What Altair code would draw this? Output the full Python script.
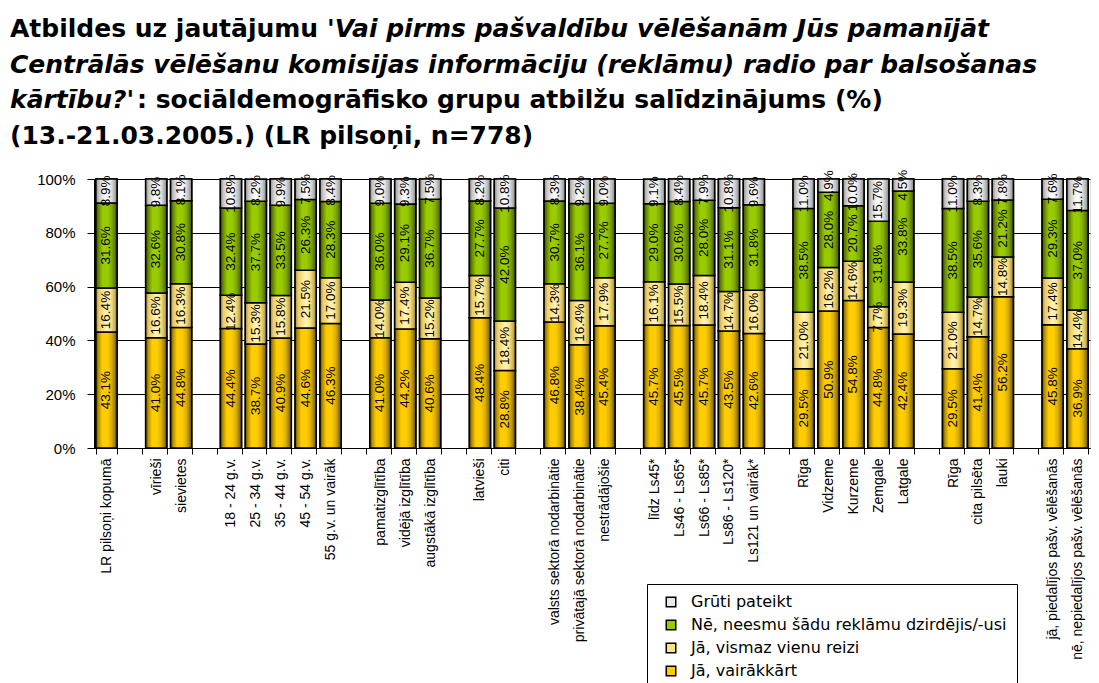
import json
import altair as alt
import pandas as pd

# ---------------- data ----------------
groups = [
    ["LR pilsoņi kopumā"],
    ["vīrieši", "sievietes"],
    ["18 - 24 g.v.", "25 - 34 g.v.", "35 - 44 g.v.", "45 - 54 g.v.", "55 g.v. un vairāk"],
    ["pamatizglītība", "vidējā izglītība", "augstākā izglītība"],
    ["latvieši", "citi"],
    ["valsts sektorā nodarbinātie", "privātajā sektorā nodarbinātie", "nestrādājošie"],
    ["līdz Ls45*", "Ls46 - Ls65*", "Ls66 - Ls85*", "Ls86 - Ls120*", "Ls121 un vairāk*"],
    ["Rīga", "Vidzeme", "Kurzeme", "Zemgale", "Latgale"],
    ["Rīga", "cita pilsēta", "lauki"],
    ["jā, piedalījos pašv. vēlēšanās", "nē, nepiedalījos pašv. vēlēšanās"],
]

series = [
    "Jā, vairākkārt",
    "Jā, vismaz vienu reizi",
    "Nē, neesmu šādu reklāmu dzirdējis/-usi",
    "Grūti pateikt",
]

ja_vairakkart = [43.1, 41.0, 44.8, 44.4, 38.7, 40.9, 44.6, 46.3, 41.0, 44.2, 40.6,
                 48.4, 28.8, 46.8, 38.4, 45.4, 45.7, 45.5, 45.7, 43.5, 42.6,
                 29.5, 50.9, 54.8, 44.8, 42.4, 29.5, 41.4, 56.2, 45.8, 36.9]
ja_vismaz = [16.4, 16.6, 16.3, 12.4, 15.3, 15.8, 21.5, 17.0, 14.0, 17.4, 15.2,
             15.7, 18.4, 14.3, 16.4, 17.9, 16.1, 15.5, 18.4, 14.7, 16.0,
             21.0, 16.2, 14.6, 7.7, 19.3, 21.0, 14.7, 14.8, 17.4, 14.4]
ne_neesmu = [31.6, 32.6, 30.8, 32.4, 37.7, 33.5, 26.3, 28.3, 36.0, 29.1, 36.7,
             27.7, 42.0, 30.7, 36.1, 27.7, 29.0, 30.6, 28.0, 31.1, 31.8,
             38.5, 28.0, 20.7, 31.8, 33.8, 38.5, 35.6, 21.2, 29.3, 37.0]
gruti = [8.9, 9.8, 8.1, 10.8, 8.2, 9.9, 7.5, 8.4, 9.0, 9.3, 7.5,
         8.2, 10.8, 8.3, 9.2, 9.0, 9.1, 8.4, 7.9, 10.8, 9.6,
         11.0, 4.9, 10.0, 15.7, 4.5, 11.0, 8.3, 7.8, 7.6, 11.7]

y_ticks = [0, 20, 40, 60, 80, 100]

title_bold_1 = "Atbildes uz jautājumu"
title_ital_1 = "'Vai pirms pašvaldību vēlēšanām Jūs pamanījāt"
title_ital_2 = "Centrālās vēlēšanu komisijas informāciju (reklāmu) radio par balsošanas"
title_ital_3 = "kārtību?'"
title_bold_3 = ": sociāldemogrāfisko grupu atbilžu salīdzinājums (%)"
title_bold_4 = "(13.-21.03.2005.) (LR pilsoņi, n=778)"

# ---------------- build table (slots with empty spacer slots between groups) ----------------
slot_labels = []
cat_slots = []
for gi, g in enumerate(groups):
    for name in g:
        cat_slots.append(len(slot_labels))
        slot_labels.append(name)
    if gi < len(groups) - 1:
        slot_labels.append("")
n_slots = len(slot_labels)

vals = [ja_vairakkart, ja_vismaz, ne_neesmu, gruti]
rows = []
for si, s in enumerate(series):
    for ci, slot in enumerate(cat_slots):
        rows.append({"slot": slot, "series": s, "order": si, "value": vals[si][ci]})
df = pd.DataFrame(rows)

# ---------------- styling ----------------
FONT = "Liberation Sans"
legend_order = [series[3], series[2], series[1], series[0]]
legend_colors = ["#E8E8E8", "#99CC00", "#FFE680", "#FFCC00"]


def grad(stops):
    return alt.LinearGradient(
        gradient="linear", x1=0, x2=1, y1=0, y2=0,
        stops=[alt.GradientStop(offset=o, color=c) for o, c in stops],
    )


gradients = {
    series[0]: grad([(0, "#5c4700"), (0.12, "#b38f00"), (0.3, "#ffcc00"), (0.55, "#ffcc00"),
                     (0.75, "#d9ad00"), (0.9, "#997a00"), (1, "#4d3d00")]),
    series[1]: grad([(0, "#a68a3a"), (0.15, "#e6cc73"), (0.35, "#ffe680"), (0.5, "#fff3c4"),
                     (0.7, "#ffe680"), (0.88, "#ccb35c"), (1, "#8c7530")]),
    series[2]: grad([(0, "#3d5200"), (0.15, "#6b8f00"), (0.32, "#99cc00"), (0.55, "#99cc00"),
                     (0.75, "#80ab00"), (0.9, "#5c7a00"), (1, "#334400")]),
    series[3]: grad([(0, "#8c8c8c"), (0.15, "#c8c8c8"), (0.35, "#eeeeee"), (0.5, "#ffffff"),
                     (0.7, "#e6e6e6"), (0.88, "#b3b3b3"), (1, "#808080")]),
}

label_expr = json.dumps(slot_labels, ensure_ascii=False) + "[datum.value]"

x_enc = alt.X(
    "slot:O",
    scale=alt.Scale(domain=list(range(n_slots)), paddingInner=0.15, paddingOuter=0.075),
    axis=alt.Axis(
        title=None, labelExpr=label_expr, labelAngle=270, labelAlign="right",
        labelBaseline="middle", labelFont=FONT, labelFontSize=14, labelColor="black",
        labelPadding=4, labelLimit=400, labelOverlap=False, tickBand="extent",
        tickSize=6, tickColor="black", domainColor="black", grid=False,
    ),
)
y_scale = alt.Scale(domain=[0, 100], nice=False, clamp=True)
y_axis = alt.Axis(
    title=None, values=y_ticks, labelExpr="datum.value + '%'", labelFont=FONT,
    labelFontSize=15, labelColor="black", labelPadding=12, tickSize=7,
    tickColor="black", domainColor="black", grid=True, gridColor="black",
    gridWidth=1, gridOpacity=1,
)
y_enc = alt.Y("y0:Q", scale=y_scale, axis=y_axis)

base = alt.Chart(df).transform_stack(
    stack="value", groupby=["slot"], sort=[alt.SortField("order")], as_=["y0", "y1"]
)

legend_layer = base.mark_bar(stroke="black", strokeWidth=1.5).encode(
    x=x_enc, y=y_enc, y2="y1:Q",
    fill=alt.Fill(
        "series:N",
        scale=alt.Scale(domain=legend_order, range=legend_colors),
        legend=alt.Legend(
            title=None, orient="none", legendX=553, legendY=405, direction="vertical",
            symbolType="square", symbolSize=90, symbolStrokeColor="black",
            symbolStrokeWidth=1.5, labelFont="DejaVu Sans", labelFontSize=16,
            labelColor="black", labelOffset=12, rowPadding=7, padding=10,
            strokeColor="black", fillColor="white", labelLimit=500, symbolOffset=6,
        ),
    ),
)

grad_layers = [
    base.transform_filter(alt.datum.series == s)
    .mark_bar(fill=gradients[s], stroke="black", strokeWidth=1.5)
    .encode(x=x_enc, y=y_enc, y2="y1:Q")
    for s in series
]

text_layer = base.transform_calculate(
    mid="(datum.y0 + datum.y1) / 2",
    lbl="format(datum.value, '.1f') + '%'",
).mark_text(angle=270, align="center", baseline="middle", font=FONT, fontSize=13.5,
            color="black").encode(
    x=x_enc, y=alt.Y("mid:Q", scale=y_scale, axis=y_axis), text="lbl:N"
)


def title_seg(txt, px, py, italic):
    kw = dict(align="left", baseline="alphabetic", font="DejaVu Sans", fontSize=25,
              fontWeight="bold", color="black")
    if italic:
        kw["fontStyle"] = "italic"
    return alt.Chart(pd.DataFrame({"t": [txt]})).mark_text(**kw).encode(
        text="t:N", x=alt.value(px), y=alt.value(py)
    )


TX = -84
title_layers = [
    title_seg(title_bold_1, TX, -142, False),
    title_seg(title_ital_1, 233, -142, True),
    title_seg(title_ital_2, TX, -106.5, True),
    title_seg(title_ital_3, TX, -71, True),
    title_seg(title_bold_3, 43, -71, False),
    title_seg(title_bold_4, TX, -35.5, False),
]

chart = alt.layer(legend_layer, *grad_layers, text_layer, *title_layers).properties(
    width=996, height=269,
    autosize=alt.AutoSizeParams(type="none"),
    padding={"left": 86, "top": 171, "right": 1, "bottom": 235},
).configure_view(stroke=None).configure(background="white")

chart.save("out.html", embed_options={"renderer": "svg", "actions": False})
